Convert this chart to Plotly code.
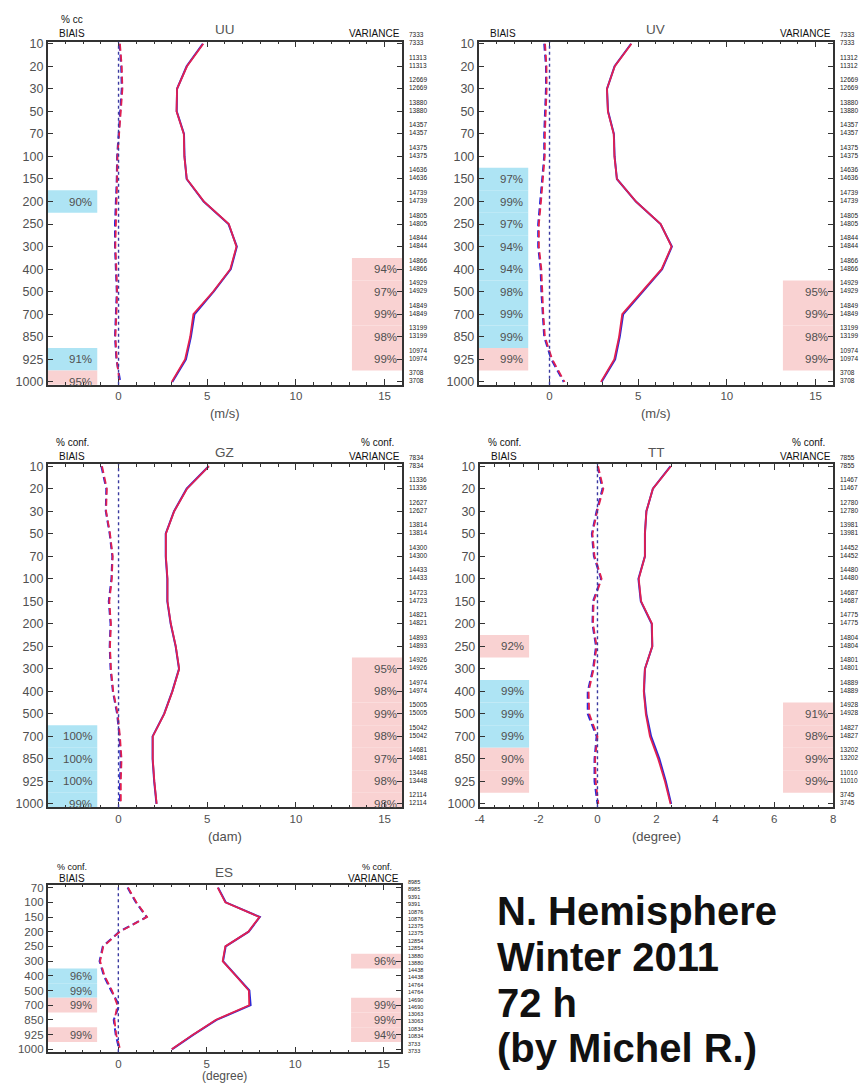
import plotly.graph_objects as go

W, H = 865, 1088

LEV16 = ["10", "20", "30", "50", "70", "100", "150", "200", "250", "300", "400", "500", "700", "850", "925", "1000"]
LEV_ES = ["70", "100", "150", "200", "250", "300", "400", "500", "700", "850", "925", "1000"]

# ---------------- UU ----------------
uu_std_blue = [4.75, 3.84, 3.30, 3.28, 3.69, 3.72, 3.84, 4.80, 6.20, 6.67, 6.33, 5.36, 4.28, 4.08, 3.80, 3.03]
uu_std_red = [4.78, 3.86, 3.30, 3.27, 3.68, 3.71, 3.85, 4.82, 6.22, 6.65, 6.30, 5.33, 4.22, 4.04, 3.75, 3.00]
uu_bias_blue = [0.05, 0.15, 0.18, 0.10, 0.00, -0.08, -0.10, -0.15, -0.20, -0.20, -0.15, -0.10, -0.15, -0.20, -0.12, 0.10]
uu_bias_red = [0.08, 0.18, 0.22, 0.12, 0.02, -0.06, -0.08, -0.12, -0.18, -0.18, -0.12, -0.08, -0.12, -0.18, -0.10, 0.05]
uu_counts = [7333, 11313, 12669, 13880, 14357, 14375, 14636, 14739, 14805, 14844, 14866, 14929, 14849, 13199, 10974, 3708]
uu_bias_conf = [("200", "90%", "b"), ("925", "91%", "b"), ("1000", "95%", "r")]
uu_var_conf = [("400", "94%"), ("500", "97%"), ("700", "99%"), ("850", "98%"), ("925", "99%")]

# ---------------- UV ----------------
uv_std_blue = [4.60, 3.67, 3.24, 3.30, 3.63, 3.67, 3.80, 4.87, 6.26, 6.90, 6.35, 5.24, 4.15, 3.96, 3.70, 2.93]
uv_std_red = [4.62, 3.68, 3.24, 3.29, 3.62, 3.66, 3.80, 4.88, 6.27, 6.88, 6.32, 5.22, 4.10, 3.92, 3.65, 2.90]
uv_bias_blue = [-0.30, -0.20, -0.20, -0.27, -0.30, -0.30, -0.40, -0.53, -0.64, -0.64, -0.50, -0.46, -0.40, -0.30, 0.10, 0.80]
uv_bias_red = [-0.25, -0.17, -0.16, -0.23, -0.26, -0.27, -0.36, -0.48, -0.60, -0.60, -0.46, -0.42, -0.35, -0.26, 0.15, 0.85]
uv_counts = [7333, 11312, 12669, 13880, 14357, 14375, 14636, 14739, 14805, 14844, 14866, 14929, 14849, 13199, 10974, 3708]
uv_bias_conf = [("150", "97%", "b"), ("200", "99%", "b"), ("250", "97%", "b"), ("300", "94%", "b"),
                ("400", "94%", "b"), ("500", "98%", "b"), ("700", "99%", "b"), ("850", "99%", "b"),
                ("925", "99%", "r")]
uv_var_conf = [("500", "95%"), ("700", "99%"), ("850", "98%"), ("925", "99%")]

# ---------------- GZ ----------------
gz_std_blue = [5.08, 3.84, 3.13, 2.66, 2.66, 2.75, 2.75, 2.94, 3.22, 3.41, 3.03, 2.57, 1.92, 1.92, 2.01, 2.14]
gz_std_red = [5.10, 3.86, 3.14, 2.67, 2.67, 2.76, 2.76, 2.95, 3.23, 3.42, 3.04, 2.58, 1.93, 1.93, 2.02, 2.15]
gz_bias_blue = [-0.97, -0.69, -0.72, -0.50, -0.35, -0.40, -0.55, -0.45, -0.50, -0.45, -0.32, -0.08, 0.05, 0.12, 0.08, 0.08]
gz_bias_red = [-0.93, -0.66, -0.70, -0.48, -0.33, -0.38, -0.52, -0.43, -0.48, -0.43, -0.30, -0.05, 0.08, 0.17, 0.13, 0.13]
gz_counts = [7834, 11336, 12627, 13814, 14300, 14433, 14723, 14821, 14893, 14926, 14974, 15005, 15042, 14681, 13448, 12114]
gz_bias_conf = [("700", "100%", "b"), ("850", "100%", "b"), ("925", "100%", "b"), ("1000", "99%", "b")]
gz_var_conf = [("300", "95%"), ("400", "98%"), ("500", "99%"), ("700", "98%"), ("850", "97%"), ("925", "98%"), ("1000", "98%")]

# ---------------- TT ----------------
tt_std_blue = [2.48, 1.88, 1.66, 1.61, 1.61, 1.39, 1.47, 1.84, 1.86, 1.61, 1.58, 1.66, 1.82, 2.10, 2.32, 2.50]
tt_std_red = [2.49, 1.88, 1.66, 1.61, 1.61, 1.40, 1.48, 1.85, 1.86, 1.61, 1.57, 1.64, 1.78, 2.06, 2.29, 2.48]
tt_bias_blue = [0.00, 0.17, -0.03, -0.19, -0.12, 0.12, -0.15, -0.17, -0.05, -0.15, -0.33, -0.33, -0.03, -0.10, -0.10, 0.00]
tt_bias_red = [0.02, 0.20, -0.01, -0.17, -0.10, 0.14, -0.13, -0.15, -0.03, -0.13, -0.30, -0.28, 0.00, -0.08, -0.06, 0.03]
tt_counts = [7855, 11467, 12780, 13981, 14452, 14480, 14687, 14775, 14804, 14801, 14889, 14928, 14827, 13202, 11010, 3745]
tt_bias_conf = [("250", "92%", "r"), ("400", "99%", "b"), ("500", "99%", "b"), ("700", "99%", "b"),
                ("850", "90%", "r"), ("925", "99%", "r")]
tt_var_conf = [("500", "91%"), ("700", "98%"), ("850", "99%"), ("925", "99%")]

# ---------------- ES ----------------
es_std_blue = [5.64, 6.07, 8.00, 7.37, 6.07, 5.92, 6.67, 7.41, 7.48, 5.55, 4.25, 3.03]
es_std_red = [5.62, 6.05, 7.98, 7.35, 6.05, 5.90, 6.65, 7.38, 7.40, 5.50, 4.22, 3.02]
es_bias_blue = [0.52, 0.99, 1.60, 0.05, -0.88, -1.06, -0.82, -0.41, 0.05, -0.26, -0.15, 0.05]
es_bias_red = [0.55, 1.02, 1.62, 0.08, -0.85, -1.03, -0.78, -0.36, -0.05, -0.22, -0.12, 0.10]
es_counts = [8985, 9391, 10876, 12375, 12854, 13880, 14438, 14764, 14690, 13063, 10834, 3733]
es_bias_conf = [("400", "96%", "b"), ("500", "99%", "b"), ("700", "99%", "r"), ("925", "99%", "r")]
es_var_conf = [("300", "96%"), ("700", "99%"), ("850", "99%"), ("925", "94%")]

X_TICKS_STD = [0, 5, 10, 15]
X_TICKS_TT = [-4, -2, 0, 2, 4, 6, 8]
X_TICKTEXT_TT = ["-4", "-2", "0", "2", "4", "6", "8"]

BLUE = "#2a2ad8"
RED = "#e3204f"
CONF_BLUE = "#aee4f4"
CONF_PINK = "#f9d2d2"
TXT = "#505050"
FONT = "Liberation Sans"

panels = [
    dict(name="UU", levels=LEV16, px=(43, 401), py=(37, 383), yr=(15.13, -0.09), xr=(-4, 16),
         sb=uu_std_blue, sr=uu_std_red, bb=uu_bias_blue, br=uu_bias_red, counts=uu_counts,
         bconf=uu_bias_conf, vconf=uu_var_conf, unit="(m/s)", ticks=X_TICKS_STD, ticktext=None,
         minor=1, top_left="% cc", top_right=None),
    dict(name="UV", levels=LEV16, px=(478, 836), py=(37, 383), yr=(15.13, -0.09), xr=(-4, 16),
         sb=uv_std_blue, sr=uv_std_red, bb=uv_bias_blue, br=uv_bias_red, counts=uv_counts,
         bconf=uv_bias_conf, vconf=uv_var_conf, unit="(m/s)", ticks=X_TICKS_STD, ticktext=None,
         minor=1, top_left=None, top_right=None),
    dict(name="GZ", levels=LEV16, px=(43, 401), py=(463, 809), yr=(15.15, -0.09), xr=(-4, 16),
         sb=gz_std_blue, sr=gz_std_red, bb=gz_bias_blue, br=gz_bias_red, counts=gz_counts,
         bconf=gz_bias_conf, vconf=gz_var_conf, unit="(dam)", ticks=X_TICKS_STD, ticktext=None,
         minor=1, top_left="% conf.", top_right="% conf."),
    dict(name="TT", levels=LEV16, px=(479, 836), py=(463, 809), yr=(15.15, -0.09), xr=(-4, 8),
         sb=tt_std_blue, sr=tt_std_red, bb=tt_bias_blue, br=tt_bias_red, counts=tt_counts,
         bconf=tt_bias_conf, vconf=tt_var_conf, unit="(degree)", ticks=X_TICKS_TT, ticktext=X_TICKTEXT_TT,
         minor=0.5, top_left="% conf.", top_right="% conf."),
    dict(name="ES", levels=LEV_ES, px=(43, 400), py=(887, 1056), yr=(11.2, -0.2), xr=(-4, 16),
         sb=es_std_blue, sr=es_std_red, bb=es_bias_blue, br=es_bias_red, counts=es_counts,
         bconf=es_bias_conf, vconf=es_var_conf, unit="(degree)", ticks=X_TICKS_STD, ticktext=None,
         minor=1, top_left="% conf.", top_right="% conf."),
]


def pyf(p):
    return 1 - p / H


def pxf(p):
    return p / W


fig = go.Figure()
shapes = []
annotations = []
layout = {}

for k, p in enumerate(panels):
    sfx = "" if k == 0 else str(k + 1)
    xa, ya = "x" + sfx, "y" + sfx
    levels = p["levels"]
    idx = list(range(len(levels)))
    es = p["name"] == "ES"

    fig.add_trace(go.Scatter(x=p["sb"], y=idx, mode="lines", line=dict(color=BLUE, width=2),
                             xaxis=xa, yaxis=ya, showlegend=False, hoverinfo="skip"))
    fig.add_trace(go.Scatter(x=p["sr"], y=idx, mode="lines", line=dict(color=RED, width=1.8),
                             xaxis=xa, yaxis=ya, showlegend=False, hoverinfo="skip"))
    fig.add_trace(go.Scatter(x=p["bb"], y=idx, mode="lines", line=dict(color=BLUE, width=2, dash="7px,4px"),
                             xaxis=xa, yaxis=ya, showlegend=False, hoverinfo="skip"))
    fig.add_trace(go.Scatter(x=p["br"], y=idx, mode="lines", line=dict(color=RED, width=1.8, dash="7px,4px"),
                             xaxis=xa, yaxis=ya, showlegend=False, hoverinfo="skip"))

    layout["xaxis" + sfx] = dict(
        domain=[pxf(p["px"][0]), pxf(p["px"][1])], range=list(p["xr"]), anchor=ya,
        showgrid=False, zeroline=False, showline=True, linecolor="#333", linewidth=1.5,
        mirror="ticks", ticks="inside", ticklen=6, tickcolor="#333",
        tickvals=p["ticks"], ticktext=p["ticktext"] if p["ticktext"] else [str(t) for t in p["ticks"]],
        minor=dict(dtick=p["minor"], tick0=0, ticks="inside", ticklen=3, tickcolor="#333"),
        tickfont=dict(family=FONT, size=11.5, color=TXT),
    )
    layout["yaxis" + sfx] = dict(
        domain=[pyf(p["py"][1]), pyf(p["py"][0])], range=list(p["yr"]), anchor=xa,
        showgrid=False, zeroline=False, showline=True, linecolor="#333", linewidth=1.5,
        mirror="ticks", ticks="inside", ticklen=6, tickcolor="#333",
        tickvals=idx, ticktext=levels,
        tickfont=dict(family=FONT, size=11.5 if es else 12.5, color=TXT),
    )

    shapes.append(dict(type="line", xref=xa, yref=ya + " domain", x0=0, x1=0, y0=0, y1=1,
                       line=dict(color="#3a3aa0", width=1.4, dash="dot"), layer="above"))

    for lev, txt, col in p["bconf"]:
        i = levels.index(lev)
        shapes.append(dict(type="rect", xref=xa + " domain", yref=ya, x0=0, x1=0.14, y0=i - 0.5, y1=i + 0.5,
                           fillcolor=CONF_BLUE if col == "b" else CONF_PINK, line=dict(width=0), layer="below"))
        annotations.append(dict(xref=xa + " domain", yref=ya, x=0.132, y=i, text=txt, showarrow=False,
                                xanchor="right", yanchor="middle",
                                font=dict(family=FONT, size=11 if es else 11.5, color=TXT)))
    for lev, txt in p["vconf"]:
        i = levels.index(lev)
        shapes.append(dict(type="rect", xref=xa + " domain", yref=ya, x0=0.858, x1=1, y0=i - 0.5, y1=i + 0.5,
                           fillcolor=CONF_PINK, line=dict(width=0), layer="below"))
        annotations.append(dict(xref=xa + " domain", yref=ya, x=0.99, y=i, text=txt, showarrow=False,
                                xanchor="right", yanchor="middle",
                                font=dict(family=FONT, size=11 if es else 11.5, color=TXT)))

    for i, c in enumerate(p["counts"]):
        annotations.append(dict(xref=xa + " domain", yref=ya, x=1.016, y=i, text=f"{c}<br>{c}",
                                showarrow=False, xanchor="left", yanchor="middle", yshift=5 if not es else 2,
                                borderpad=0,
                                font=dict(family=FONT, size=6.5 if not es else 5.5, color="#222")))

    top = p["py"][0]
    x0, x1 = p["px"]
    cx = (x0 + x1) / 2
    annotations.append(dict(xref="paper", yref="paper", x=pxf(cx), y=pyf(top - 12), text=p["name"],
                            showarrow=False, xanchor="center", yanchor="middle",
                            font=dict(family=FONT, size=13.5, color="#555")))
    annotations.append(dict(xref="paper", yref="paper", x=pxf(x0 + 25), y=pyf(top - (6 if es else 8)), text="BIAIS",
                            showarrow=False, xanchor="center", yanchor="middle",
                            font=dict(family=FONT, size=10, color="#111")))
    annotations.append(dict(xref="paper", yref="paper", x=pxf(x1), y=pyf(top - (6 if es else 8)), text="VARIANCE",
                            showarrow=False, xanchor="right", yanchor="middle",
                            font=dict(family=FONT, size=10, color="#111")))
    if p["top_left"]:
        annotations.append(dict(xref="paper", yref="paper", x=pxf(x0 + 25), y=pyf(top - (18 if es else 22)),
                                text=p["top_left"], showarrow=False, xanchor="center", yanchor="middle",
                                font=dict(family=FONT, size=9 if es else 10, color="#111")))
    if p["top_right"]:
        annotations.append(dict(xref="paper", yref="paper", x=pxf(x1 - 25), y=pyf(top - (18 if es else 22)),
                                text=p["top_right"], showarrow=False, xanchor="center", yanchor="middle",
                                font=dict(family=FONT, size=9 if es else 10, color="#111")))
    bottom = p["py"][1]
    annotations.append(dict(xref="paper", yref="paper", x=pxf(cx), y=pyf(bottom + (24 if es else 29)),
                            text=p["unit"], showarrow=False, xanchor="center", yanchor="middle",
                            font=dict(family=FONT, size=12 if es else 13, color=TXT)))

info_lines = ["N. Hemisphere", "Winter 2011", "72 h", "(by Michel R.)"]
for j, line in enumerate(info_lines):
    annotations.append(dict(xref="paper", yref="paper", x=pxf(495), y=pyf(914 + j * 46), text=f"<b>{line}</b>",
                            showarrow=False, xanchor="left", yanchor="middle",
                            font=dict(family="Liberation Sans", size=40, color="#111")))

fig.update_layout(
    width=W, height=H, margin=dict(l=0, r=0, t=0, b=0),
    paper_bgcolor="white", plot_bgcolor="white",
    showlegend=False, shapes=shapes, annotations=annotations, **layout,
)

fig.write_html("out.html", config={"displayModeBar": False},
               post_script="document.body.style.margin='0px';document.body.style.overflow='hidden';")
